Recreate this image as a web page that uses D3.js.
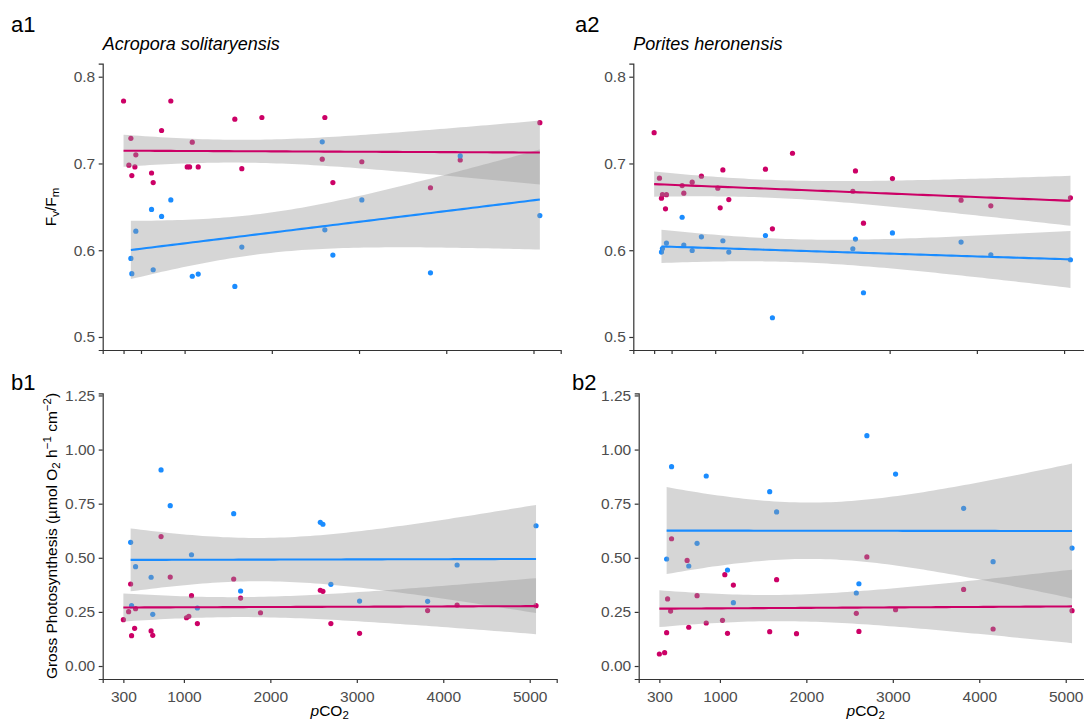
<!DOCTYPE html>
<html><head><meta charset="utf-8">
<script src="https://cdn.jsdelivr.net/npm/d3@7"></script>
<style>body{margin:0;background:#fff} svg{display:block;font-family:"Liberation Sans",Arial,sans-serif}</style>
</head><body><svg id="chart" width="1084" height="720"></svg>
<script>
// ---------- tick labels ----------
const pco2TicksBottom = [300, 1000, 2000, 3000, 4000, 5000];
const pco2TicksTop = [300, 500, 1000, 2000, 3000, 4000, 5000];
const fvfmTicks = [0.5, 0.6, 0.7, 0.8];
const gpTicks = [0, 0.25, 0.5, 0.75, 1.0, 1.25];
const panelTags = ["a1", "a2", "b1", "b2"];
const speciesTitles = ["Acropora solitaryensis", "Porites heronensis"];

// ---------- a1: Acropora Fv/Fm ----------
const a1PinkX = [300, 361, 384, 395, 430, 441, 621, 640, 736, 842, 1030, 1057, 1088, 1156, 1576, 1656, 1886, 2578, 2608, 2700, 3032, 3819, 4160, 5073];
const a1PinkY = [0.772, 0.698, 0.729, 0.686, 0.696, 0.710, 0.689, 0.678, 0.738, 0.772, 0.696, 0.696, 0.7245, 0.696, 0.751, 0.694, 0.753, 0.705, 0.753, 0.678, 0.702, 0.672, 0.704, 0.747];
const a1BlueX = [384, 395, 441, 621, 640, 736, 842, 1088, 1156, 1576, 1656, 2578, 2608, 2700, 3032, 3819, 4160, 5073];
const a1BlueY = [0.5905, 0.573, 0.622, 0.647, 0.5775, 0.639, 0.658, 0.570, 0.5725, 0.5583, 0.6036, 0.725, 0.6235, 0.5944, 0.658, 0.574, 0.7087, 0.640];

// ---------- a2: Porites Fv/Fm ----------
const a2PinkX = [300, 361, 384, 395, 430, 441, 621, 640, 736, 842, 1030, 1057, 1088, 1156, 1576, 1656, 1886, 2578, 2608, 2700, 3032, 3819, 4160, 5073];
const a2PinkY = [0.7355, 0.683, 0.660, 0.664, 0.6477, 0.664, 0.6745, 0.6658, 0.6784, 0.6853, 0.6715, 0.6489, 0.6926, 0.6584, 0.6934, 0.6247, 0.7118, 0.668, 0.6914, 0.6312, 0.6826, 0.6577, 0.6512, 0.6604];
const a2BlueX = [384, 395, 441, 621, 640, 736, 842, 1088, 1156, 1576, 1656, 2578, 2608, 2700, 3032, 3819, 4160, 5073];
const a2BlueY = [0.5979, 0.602, 0.6082, 0.638, 0.606, 0.5997, 0.6155, 0.6109, 0.5979, 0.617, 0.5222, 0.6017, 0.6128, 0.551, 0.620, 0.6094, 0.5948, 0.589];

// ---------- b1: Acropora gross photosynthesis ----------
const b1PinkX = [300, 361, 384, 395, 430, 441, 621, 640, 736, 842, 1030, 1057, 1088, 1156, 1576, 1656, 1886, 2578, 2608, 2700, 3032, 3819, 4160, 5073];
const b1PinkY = [0.214, 0.251, 0.379, 0.140, 0.174, 0.265, 0.162, 0.142, 0.598, 0.411, 0.223, 0.230, 0.325, 0.196, 0.402, 0.314, 0.246, 0.350, 0.345, 0.196, 0.151, 0.256, 0.282, 0.279];
const b1BlueX = [384, 395, 441, 621, 640, 736, 842, 1088, 1156, 1576, 1656, 2578, 2608, 2700, 3032, 3819, 4160, 5073];
const b1BlueY = [0.5715, 0.279, 0.459, 0.410, 0.239, 0.906, 0.741, 0.514, 0.268, 0.704, 0.3466, 0.664, 0.655, 0.3775, 0.300, 0.299, 0.4667, 0.648];

// ---------- b2: Porites gross photosynthesis ----------
const b2PinkX = [300, 361, 384, 395, 430, 441, 621, 640, 736, 842, 1030, 1057, 1088, 1156, 1576, 1656, 1886, 2578, 2608, 2700, 3032, 3819, 4160, 5073];
const b2PinkY = [0.0555, 0.0616, 0.154, 0.310, 0.254, 0.588, 0.488, 0.179, 0.325, 0.1987, 0.211, 0.422, 0.151, 0.374, 0.1587, 0.399, 0.1494, 0.2434, 0.160, 0.504, 0.260, 0.354, 0.171, 0.2557];
const b2BlueX = [384, 441, 640, 736, 842, 1088, 1156, 1576, 1656, 2578, 2608, 2700, 3032, 3819, 4160, 5073];
const b2BlueY = [0.4945, 0.921, 0.462, 0.567, 0.878, 0.4436, 0.2927, 0.8056, 0.7117, 0.3373, 0.380, 1.0643, 0.887, 0.7287, 0.482, 0.545];

// ---------- styling ----------
const PINK = "#CC0066", BLUE = "#1A8CFF";
const AXIS = "#333333", TICKTXT = "#4D4D4D";
const svg = d3.select("#chart");

// t quantile (0.975) via Cornish-Fisher expansion
function tq(df) {
  const z = 1.959964;
  return z + (z**3 + z) / (4*df) + (5*z**5 + 16*z**3 + 3*z) / (96*df*df)
    + (3*z**7 + 19*z**5 + 17*z**3 - 15*z) / (384*df**3);
}
// linear model with 95% confidence band (as geom_smooth(method="lm"))
function lmBand(xs, ys) {
  const n = xs.length, xbar = d3.mean(xs), ybar = d3.mean(ys);
  let sxx = 0, sxy = 0;
  xs.forEach((x, i) => { sxx += (x - xbar)**2; sxy += (x - xbar)*(ys[i] - ybar); });
  const b = sxy / sxx, a = ybar - b*xbar;
  let rss = 0; xs.forEach((x, i) => { rss += (ys[i] - a - b*x)**2; });
  const s2 = rss / (n - 2), t = tq(n - 2);
  const [x0, x1] = d3.extent(xs);
  return d3.range(80).map(i => {
    const x = x0 + (x1 - x0) * i / 79, f = a + b*x;
    const se = Math.sqrt(s2 * (1/n + (x - xbar)**2 / sxx));
    return {x, f, lo: f - t*se, hi: f + t*se};
  });
}

function panel(cfg) {
  const x = d3.scaleLinear().domain([61, 5312]).range([cfg.left, cfg.right]);
  const y = d3.scaleLinear().domain(cfg.ydom).range([cfg.bottom, cfg.top]);
  const g = svg.append("g");

  const groups = [
    {xs: cfg.pinkX, ys: cfg.pinkY, col: PINK},
    {xs: cfg.blueX, ys: cfg.blueY, col: BLUE}
  ];
  groups.forEach(s => {
    g.append("g").selectAll("circle").data(s.xs).join("circle")
      .attr("cx", d => x(d)).attr("cy", (d, i) => y(s.ys[i]))
      .attr("r", 2.6).attr("fill", s.col);
  });
  const bands = groups.map(s => lmBand(s.xs, s.ys));
  bands.forEach(bd => {
    g.append("path").datum(bd)
      .attr("d", d3.area().x(d => x(d.x)).y0(d => y(d.lo)).y1(d => y(d.hi)))
      .attr("fill", "#999999").attr("fill-opacity", 0.4);
  });
  bands.forEach((bd, k) => {
    g.append("path").datum(bd)
      .attr("d", d3.line().x(d => x(d.x)).y(d => y(d.f)))
      .attr("fill", "none").attr("stroke", groups[k].col).attr("stroke-width", 2.1);
  });

  const xa = d3.axisBottom(x).tickValues(cfg.xticks).tickSizeOuter(0).tickSize(4).tickPadding(4)
    .tickFormat(cfg.xlabels ? d => d : () => "");
  const gx = g.append("g").attr("transform", `translate(0,${cfg.bottom})`).call(xa);
  const ya = d3.axisLeft(y).tickValues(cfg.yticks).tickSizeOuter(0).tickSize(4).tickPadding(3.5)
    .tickFormat(d3.format(cfg.yfmt));
  const gy = g.append("g").attr("transform", `translate(${cfg.left},0)`).call(ya);
  [gx, gy].forEach(a => {
    a.select(".domain").attr("stroke", AXIS).attr("stroke-width", 1.2);
    a.selectAll(".tick line").attr("stroke", AXIS).attr("stroke-width", 1.2);
    a.selectAll(".tick text").attr("fill", TICKTXT).attr("font-size", 15.5)
      .attr("font-family", '"Liberation Sans",Arial,sans-serif');
  });
  gx.selectAll(".tick text").attr("dy", "0.95em");
}

const aDom = [0.485, 0.815], bDom = [-0.06, 1.26];
panel({left: 102.7, right: 560.7, top: 63.7, bottom: 350, ydom: aDom, yticks: fvfmTicks, yfmt: ".1f",
  xticks: pco2TicksTop, xlabels: false, pinkX: a1PinkX, pinkY: a1PinkY, blueX: a1BlueX, blueY: a1BlueY});
panel({left: 633.3, right: 1091.3, top: 63.7, bottom: 350, ydom: aDom, yticks: fvfmTicks, yfmt: ".1f",
  xticks: pco2TicksTop, xlabels: false, pinkX: a2PinkX, pinkY: a2PinkY, blueX: a2BlueX, blueY: a2BlueY});
panel({left: 102.7, right: 556.7, top: 393.3, bottom: 679, ydom: bDom, yticks: gpTicks, yfmt: ".2f",
  xticks: pco2TicksBottom, xlabels: true, pinkX: b1PinkX, pinkY: b1PinkY, blueX: b1BlueX, blueY: b1BlueY});
panel({left: 638.7, right: 1092.7, top: 393.3, bottom: 679, ydom: bDom, yticks: gpTicks, yfmt: ".2f",
  xticks: pco2TicksBottom, xlabels: true, pinkX: b2PinkX, pinkY: b2PinkY, blueX: b2BlueX, blueY: b2BlueY});

const tagPos = [[11, 32], [575, 32], [11, 390], [572, 390]];
panelTags.forEach((t, i) => svg.append("text").attr("x", tagPos[i][0]).attr("y", tagPos[i][1])
  .attr("font-size", 22).attr("fill", "#000").text(t));

[[102.7, 49.5], [633.3, 49.5]].forEach((p, i) => svg.append("text").attr("x", p[0]).attr("y", p[1])
  .attr("font-size", 18).attr("font-style", "italic").attr("fill", "#000").text(speciesTitles[i]));

const yt1 = svg.append("text").attr("transform", "translate(55.5,207) rotate(-90)")
  .attr("text-anchor", "middle").attr("font-size", 15.5).attr("fill", "#000");
yt1.append("tspan").text("F");
yt1.append("tspan").attr("font-size", 11.5).attr("dy", 3).text("v");
yt1.append("tspan").attr("dy", -3).text("/F");
yt1.append("tspan").attr("font-size", 11.5).attr("dy", 3).text("m");

const yt2 = svg.append("text").attr("transform", "translate(57,536) rotate(-90)")
  .attr("text-anchor", "middle").attr("font-size", 15.5).attr("fill", "#000");
yt2.append("tspan").text("Gross Photosynthesis (\u00B5mol O");
yt2.append("tspan").attr("font-size", 11.5).attr("dy", 3).text("2");
yt2.append("tspan").attr("dy", -3).text(" h");
yt2.append("tspan").attr("font-size", 11.5).attr("dy", -6).text("\u22121");
yt2.append("tspan").attr("dy", 6).text(" cm");
yt2.append("tspan").attr("font-size", 11.5).attr("dy", -6).text("\u22122");
yt2.append("tspan").attr("dy", 6).text(")");

[329.7, 865.7].forEach(cx => {
  const t = svg.append("text").attr("x", cx).attr("y", 716).attr("text-anchor", "middle")
    .attr("font-size", 15.5).attr("fill", "#000");
  t.append("tspan").attr("font-style", "italic").text("p");
  t.append("tspan").text("CO");
  t.append("tspan").attr("font-size", 11.5).attr("dy", 3).text("2");
});
</script></body></html>
